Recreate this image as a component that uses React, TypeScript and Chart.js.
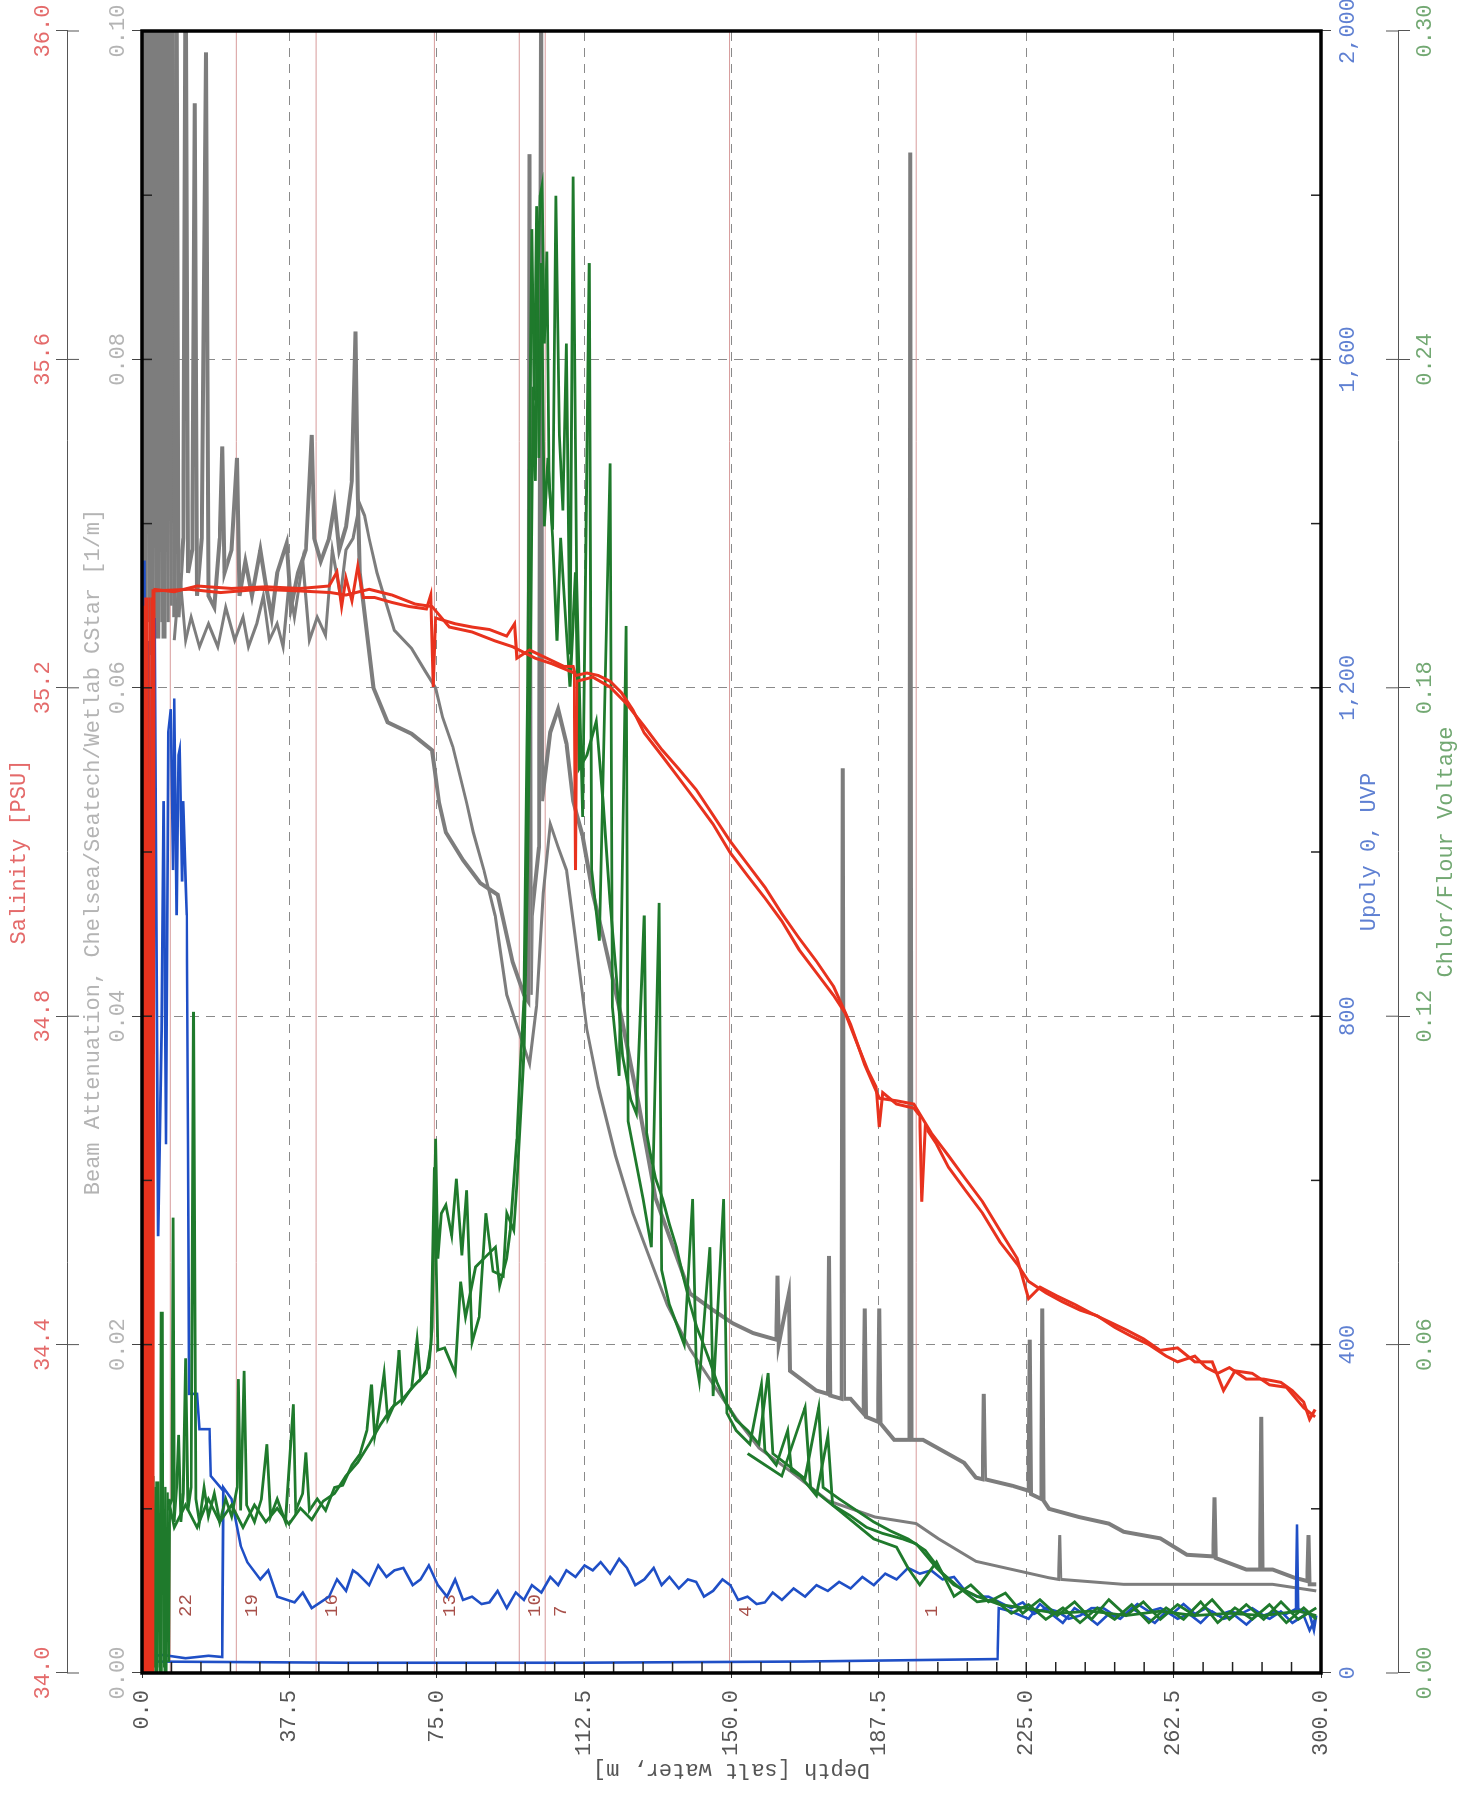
import React, { useEffect, useRef } from "react";
import { Chart, registerables } from "chart.js";

Chart.register(...registerables);

const FONT = "'Liberation Mono', 'DejaVu Sans Mono', monospace";

// ---------- axis definitions ----------
const depthRange = [0, 300];
const depthStep = 37.5;
const depthMinorStep = 7.5;
const salinityRange = [34, 36];
const salinityStep = 0.4;
const beamRange = [0, 0.1];
const beamStep = 0.02;
const upolyRange = [0, 2000];
const upolyStep = 400;
const chlorRange = [0, 0.3];
const chlorStep = 0.06;

// ---------- bottle firing markers ----------
const bottleDepths = [7.2, 24.0, 44.3, 74.4, 96.0, 102.6, 149.5, 197.0];
const bottleLabels = ["22", "19", "16", "13", "10", "7", "4", "1"];

// ---------- data: [depth m, value] ----------
const salinitySurface = [[0.3,34.0],[0.5,35.30],[0.8,34.0],[1.1,35.31],[1.4,34.0],[1.7,35.31],[2.0,34.0],[2.3,35.31],[2.6,34.0],[2.9,35.32]];

const salinityDown = [[2.9,35.320],[8.2,35.317],[14.0,35.324],[22.8,35.321],[31.5,35.323],[40.3,35.321],[47.6,35.324],[49.6,35.341],[50.8,35.299],[51.9,35.334],[53.4,35.306],[54.9,35.348],[56.3,35.310],[59.2,35.310],[63.6,35.304],[68.0,35.299],[72.4,35.296],[73.5,35.313],[74.1,35.201],[74.7,35.285],[79.7,35.278],[84.0,35.274],[88.4,35.271],[92.8,35.263],[94.8,35.278],[95.4,35.236],[98.6,35.246],[103.0,35.236],[107.4,35.226],[109.7,35.226],[110.3,35.215],[113.2,35.218],[116.1,35.215],[119.1,35.208],[122.0,35.194],[124.9,35.173],[127.8,35.145],[132.2,35.118],[136.6,35.090],[141.0,35.062],[145.3,35.034],[149.7,34.999],[154.1,34.971],[158.5,34.944],[162.8,34.916],[167.2,34.881],[171.6,34.853],[176.0,34.825],[178.9,34.804],[181.8,34.769],[184.7,34.734],[186.8,34.714],[187.6,34.665],[188.5,34.707],[192.0,34.693],[196.4,34.688],[197.9,34.679],[198.4,34.574],[199.3,34.665],[202.2,34.644],[205.2,34.616],[209.5,34.588],[213.9,34.560],[218.3,34.525],[222.7,34.498],[225.6,34.477],[230.0,34.463],[234.3,34.452],[238.7,34.442],[243.1,34.435],[247.5,34.421],[251.8,34.410],[256.2,34.400],[260.6,34.386],[263.5,34.379],[267.9,34.386],[270.8,34.372],[273.7,34.365],[276.7,34.372],[281.0,34.358],[285.4,34.358],[289.8,34.354],[292.7,34.344],[295.6,34.330],[297.1,34.309],[298.5,34.321]];

const salinityUp = [[3.0,35.318],[12.0,35.320],[20.0,35.316],[30.0,35.320],[40.0,35.318],[48.0,35.316],[51.9,35.313],[57.8,35.320],[63.6,35.313],[69.5,35.302],[73.8,35.299],[78.2,35.274],[84.0,35.268],[89.9,35.257],[94.3,35.250],[100.1,35.236],[104.5,35.229],[110.0,35.218],[110.3,34.978],[110.6,35.208],[114.7,35.213],[119.1,35.201],[123.4,35.180],[127.8,35.153],[132.2,35.125],[136.6,35.101],[141.0,35.076],[145.3,35.045],[149.7,35.013],[154.1,34.985],[158.5,34.957],[162.8,34.925],[167.2,34.895],[171.6,34.867],[176.0,34.836],[180.3,34.790],[183.9,34.741],[187.6,34.700],[192.0,34.697],[196.4,34.693],[200.8,34.658],[205.2,34.630],[209.5,34.602],[213.9,34.574],[218.3,34.539],[222.7,34.505],[225.6,34.456],[228.5,34.470],[232.9,34.459],[237.3,34.449],[241.6,34.438],[246.0,34.428],[250.4,34.418],[254.8,34.407],[259.1,34.393],[263.5,34.396],[267.9,34.379],[272.3,34.379],[275.2,34.344],[278.1,34.368],[282.5,34.365],[286.9,34.351],[291.2,34.348],[295.6,34.323],[298.5,34.312]];

const beamSurface = [[0.2,0.064],[0.4,0.104],[0.8,0.063],[1.2,0.104],[1.6,0.064],[2.0,0.104],[2.4,0.062],[2.8,0.104],[3.2,0.064],[3.6,0.104],[4.0,0.063],[4.4,0.104],[4.8,0.064],[5.2,0.104],[5.6,0.063],[6.0,0.104],[6.4,0.064],[6.8,0.104],[7.2,0.065],[7.6,0.104],[8.0,0.066]];

const beamDown = [[8.2,0.0643],[8.8,0.104],[9.3,0.0643],[10.5,0.0691],[11.1,0.104],[11.7,0.0670],[12.8,0.0684],[13.4,0.0956],[14.0,0.0656],[15.2,0.0691],[16.3,0.0987],[16.9,0.0656],[18.4,0.0649],[19.8,0.0691],[20.4,0.0747],[21.0,0.0670],[22.8,0.0684],[24.2,0.0740],[24.8,0.0656],[26.3,0.0677],[28.0,0.0656],[30.1,0.0684],[31.5,0.0663],[33.0,0.0643],[34.4,0.0670],[36.8,0.0688],[37.9,0.0649],[39.7,0.0670],[41.7,0.0684],[43.2,0.0754],[43.8,0.0691],[45.5,0.0677],[47.6,0.0691],[49.0,0.0712],[50.2,0.0684],[51.9,0.0698],[53.4,0.0726],[54.3,0.0817],[54.9,0.0719],[55.4,0.0670],[58.9,0.0600],[62.5,0.0579],[68.6,0.0572],[73.8,0.0562],[75.6,0.0530],[77.3,0.0512],[81.7,0.0495],[86.1,0.0481],[90.5,0.0474],[94.3,0.0433],[97.2,0.0413],[98.3,0.0409],[98.6,0.0925],[98.9,0.0413],[99.2,0.0461],[101.0,0.0503],[101.6,0.104],[101.8,0.0531],[103.9,0.0573],[105.9,0.0587],[108.0,0.0566],[109.7,0.0531],[112.1,0.0510],[114.7,0.0475],[117.6,0.0446],[122.0,0.0399],[126.4,0.0346],[130.7,0.0289],[135.1,0.0260],[139.5,0.0231],[145.3,0.0221],[150.3,0.0213],[155.5,0.0207],[161.4,0.0203],[161.7,0.0242],[162.0,0.0200],[164.6,0.0231],[164.9,0.0184],[171.6,0.0172],[174.5,0.0170],[174.8,0.0254],[175.1,0.0169],[178.0,0.0167],[178.3,0.0551],[178.6,0.0167],[180.3,0.0167],[183.6,0.0158],[183.9,0.0222],[184.2,0.0156],[187.3,0.0153],[187.6,0.0222],[187.9,0.0152],[191.4,0.0142],[195.2,0.0142],[195.5,0.0926],[195.8,0.0142],[198.7,0.0142],[209.2,0.0128],[212.2,0.0119],[213.9,0.0118],[214.2,0.0170],[214.5,0.0118],[221.5,0.0114],[225.6,0.0111],[225.9,0.0203],[226.2,0.0109],[228.8,0.0106],[229.1,0.0222],[229.4,0.0105],[230.8,0.0100],[238.4,0.0095],[246.0,0.0091],[249.8,0.0086],[259.1,0.0082],[265.9,0.0072],[272.6,0.0071],[272.9,0.0107],[273.2,0.0070],[281.0,0.0063],[284.5,0.0063],[284.8,0.0156],[285.1,0.0063],[287.7,0.0063],[293.3,0.0058],[296.5,0.0056],[296.8,0.0084],[297.1,0.0054],[298.8,0.0054]];

const beamUp = [[8.2,0.0629],[9.6,0.0670],[11.1,0.0629],[12.5,0.0643],[14.6,0.0625],[16.9,0.0639],[19.3,0.0625],[21.3,0.0649],[23.6,0.0629],[25.7,0.0643],[27.1,0.0625],[29.2,0.0639],[30.9,0.0656],[32.4,0.0629],[34.4,0.0639],[35.9,0.0625],[37.4,0.0663],[38.8,0.0643],[40.9,0.0677],[42.6,0.0629],[44.6,0.0643],[46.7,0.0632],[48.4,0.0684],[50.5,0.0656],[51.9,0.0684],[53.7,0.0691],[55.4,0.0712],[56.6,0.0705],[57.8,0.0691],[59.8,0.0670],[64.2,0.0635],[68.6,0.0624],[72.1,0.0610],[74.7,0.0600],[76.5,0.0582],[79.1,0.0564],[82.6,0.0530],[84.3,0.0512],[87.0,0.0489],[89.9,0.0461],[92.8,0.0413],[95.7,0.0392],[98.6,0.0371],[100.4,0.0406],[102.1,0.0475],[103.9,0.0517],[105.9,0.0503],[108.0,0.0489],[110.3,0.0447],[113.2,0.0392],[116.1,0.0357],[120.5,0.0315],[124.9,0.0280],[129.3,0.0252],[133.7,0.0224],[139.5,0.0197],[145.3,0.0176],[151.2,0.0155],[157.0,0.0137],[164.9,0.0123],[174.5,0.0105],[186.5,0.0095],[197.0,0.0091],[202.5,0.0082],[212.2,0.0068],[221.5,0.0063],[230.8,0.0058],[233.2,0.0057],[233.5,0.0084],[233.8,0.0057],[249.8,0.0054],[268.5,0.0054],[287.7,0.0054],[298.8,0.0050]];

const upolySurface = [[0.3,17],[0.6,1355],[1.2,365],[1.8,1257],[2.6,644],[3.2,1285],[4.1,532],[5.0,783],[5.5,1062],[6.1,644],[6.7,1146],[7.3,1174],[7.9,978],[8.2,1187],[8.8,923],[9.3,1118],[9.6,1125],[10.2,964],[10.5,1062],[11.1,964],[11.4,923],[11.7,644],[12.0,340],[14.0,340],[14.6,297],[17.2,297],[17.5,240],[20.7,222]];

const upolyMid = [[0.6,19.5],[5.3,22],[11.1,18],[16.9,21],[20.4,19.5],[20.7,226],[22.8,212],[25.1,155],[26.8,135],[30.1,114],[32.1,125],[34.4,93],[38.8,86],[40.9,98],[43.2,79],[47.6,93],[49.6,114],[51.9,100],[53.7,125],[54.9,121],[57.8,107],[60.1,131],[62.2,117],[64.2,125],[66.5,128],[68.9,107],[70.9,114],[73.0,131],[75.3,107],[77.6,93],[79.7,114],[81.7,89],[84.0,93],[86.4,84],[88.4,86],[90.5,100],[92.8,79],[95.1,98],[97.2,89],[99.2,107],[101.6,98],[103.9,117],[105.9,107],[108.0,125],[110.3,117],[112.6,131],[114.7,125],[116.7,135],[119.1,121],[121.4,139],[123.4,128],[125.5,107],[127.8,114],[130.2,128],[132.2,107],[134.2,117],[136.6,103],[138.9,114],[141.0,111],[143.0,93],[145.3,100],[147.7,114],[149.7,107],[151.7,89],[154.1,93],[156.4,84],[158.5,86],[160.5,98],[162.8,89],[165.8,103],[168.7,93],[171.6,107],[174.5,100],[177.4,111],[180.3,103],[183.3,117],[186.2,107],[189.1,121],[192.0,114],[194.9,128],[197.9,121],[200.8,125],[203.7,114],[206.6,117],[209.5,100],[212.5,93],[215.4,93],[218.3,86],[221.2,79],[224.1,86],[227.0,72],[230.0,79],[232.9,75],[235.8,66],[238.7,70],[241.6,79],[244.6,79],[247.5,70],[250.4,72],[253.3,84],[256.2,75],[259.1,79],[262.1,72],[265.0,84],[267.9,72],[270.8,79],[273.7,70],[276.7,75],[279.6,72],[282.5,79],[285.4,70],[288.3,75],[291.2,72],[293.6,78],[293.9,181],[294.2,78],[297.1,72],[298.2,52],[298.8,70]];

const upolyLow = [[0.6,14],[51.9,12.5],[110.3,12.5],[168.7,14],[217.7,17],[218.0,79],[221.2,75],[225.6,66],[228.5,84],[231.4,72],[234.3,61],[237.3,79],[240.2,70],[243.1,59],[246.0,72],[248.9,66],[251.8,79],[254.8,70],[257.7,61],[260.6,75],[263.5,66],[266.4,72],[269.4,61],[272.3,75],[275.2,66],[278.1,70],[281.0,59],[284.0,72],[286.9,66],[289.8,75],[292.7,61],[295.6,70],[297.1,52],[298.5,66]];

const chlorSurface = [[1.8,0.000],[2.1,0.034],[2.4,0.000],[2.7,0.036],[3.0,0.001],[3.3,0.034],[3.6,0.000],[3.9,0.035],[4.2,0.001],[4.5,0.034],[4.8,0.000],[5.0,0.066],[5.1,0.036],[5.4,0.001],[5.7,0.034],[6.0,0.000],[6.3,0.033],[6.6,0.002],[6.9,0.030]];

const chlorA = [[6.7,0.0297],[7.6,0.0318],[7.9,0.0832],[8.2,0.0276],[8.8,0.0339],[9.3,0.0435],[9.9,0.0276],[10.5,0.0328],[11.1,0.0575],[11.7,0.0297],[12.5,0.0339],[13.1,0.1208],[13.7,0.0318],[14.6,0.0276],[15.8,0.0339],[16.9,0.0286],[18.4,0.0328],[19.8,0.0276],[21.3,0.0318],[22.8,0.0286],[24.2,0.0339],[24.5,0.0537],[25.1,0.0297],[26.0,0.0552],[26.6,0.0307],[28.6,0.0276],[30.4,0.0318],[31.8,0.0418],[32.7,0.0286],[34.4,0.0318],[36.5,0.0276],[38.5,0.0491],[39.1,0.0297],[40.9,0.0328],[41.7,0.0403],[42.6,0.0297],[44.6,0.0318],[46.7,0.0297],[49.0,0.0339],[51.1,0.0343],[53.4,0.0380],[55.4,0.0399],[57.2,0.0443],[58.4,0.0527],[59.2,0.0433],[59.8,0.0456],[61.6,0.0548],[62.5,0.0464],[64.2,0.0491],[65.4,0.0590],[66.2,0.0495],[68.6,0.0521],[70.0,0.0610],[70.9,0.0537],[73.0,0.0558],[73.8,0.0631],[74.7,0.0976],[75.3,0.0757],[76.2,0.0840],[77.3,0.0855],[78.8,0.0799],[80.0,0.0903],[81.4,0.0763],[82.6,0.0882],[84.0,0.0604],[85.8,0.0650],[87.5,0.0840],[89.3,0.0734],[91.9,0.0725],[92.8,0.0840],[94.6,0.0809],[95.4,0.0893],[97.2,0.1135],[98.1,0.1468],[98.9,0.1886],[99.5,0.2350],[100.1,0.2178],[100.7,0.2534],[101.3,0.2699],[101.8,0.2718],[102.4,0.2429],[103.0,0.2597],[103.6,0.2174],[104.5,0.2089],[105.3,0.2699],[106.2,0.2262],[107.1,0.2124],[108.0,0.2429],[108.9,0.1861],[109.7,0.2734],[110.6,0.2001],[112.1,0.1564],[113.8,0.2576],[114.4,0.1468],[116.4,0.1338],[119.1,0.2210],[119.7,0.1217],[121.4,0.1091],[123.2,0.1913],[123.7,0.1008],[127.5,0.0866],[129.6,0.0778],[131.6,0.1407],[132.2,0.0736],[134.2,0.0673],[138.0,0.0600],[140.1,0.0866],[141.0,0.0569],[141.8,0.0533],[144.5,0.0778],[145.3,0.0506],[148.0,0.0866],[148.8,0.0475],[151.2,0.0443],[154.7,0.0418],[157.6,0.0527],[158.5,0.0406],[161.4,0.0380],[164.3,0.0443],[165.2,0.0370],[167.5,0.0360],[171.6,0.0324],[174.5,0.0433],[175.7,0.0307],[180.1,0.0288],[184.4,0.0266],[188.5,0.0255],[193.5,0.0245],[197.0,0.0236],[202.2,0.0192],[206.6,0.0161],[212.5,0.0140],[218.3,0.0125],[224.1,0.0119],[232.9,0.0109],[241.6,0.0113],[250.4,0.0105],[259.1,0.0113],[267.9,0.0105],[276.7,0.0109],[285.4,0.0105],[294.2,0.0113],[298.8,0.0105]];

const chlorB = [[6.7,0.0318],[8.2,0.0266],[11.1,0.0307],[14.0,0.0266],[16.9,0.0318],[19.8,0.0276],[22.8,0.0307],[25.7,0.0266],[28.6,0.0307],[31.5,0.0276],[34.4,0.0301],[37.4,0.0272],[40.3,0.0301],[43.2,0.0280],[46.1,0.0314],[49.0,0.0328],[51.9,0.0360],[54.9,0.0385],[57.8,0.0418],[60.7,0.0454],[63.6,0.0485],[66.5,0.0502],[69.5,0.0527],[72.4,0.0548],[73.5,0.0600],[74.4,0.0924],[75.3,0.0590],[77.0,0.0594],[79.7,0.0548],[81.1,0.0715],[82.3,0.0650],[84.9,0.0742],[87.5,0.0761],[89.9,0.0778],[91.0,0.0707],[92.8,0.0757],[93.7,0.0809],[95.4,0.0976],[96.3,0.1112],[97.2,0.1229],[98.1,0.1802],[98.6,0.2220],[99.2,0.2638],[99.8,0.2325],[100.4,0.2680],[101.0,0.2220],[101.6,0.2576],[102.4,0.2095],[103.3,0.2220],[104.5,0.2074],[105.6,0.1886],[106.5,0.2074],[107.4,0.1969],[108.9,0.1802],[110.3,0.2011],[111.2,0.1652],[113.2,0.1677],[115.6,0.1739],[117.3,0.1593],[119.1,0.1407],[120.5,0.1290],[122.3,0.1127],[124.3,0.1049],[125.8,0.1022],[127.8,0.1384],[128.4,0.0987],[129.3,0.0951],[130.7,0.0903],[132.5,0.0866],[134.2,0.0820],[136.0,0.0778],[137.7,0.0725],[139.5,0.0673],[141.2,0.0631],[142.7,0.0604],[144.5,0.0569],[146.2,0.0533],[148.5,0.0495],[151.2,0.0462],[154.1,0.0443],[157.0,0.0418],[159.3,0.0548],[160.5,0.0401],[164.3,0.0380],[168.7,0.0355],[172.2,0.0485],[173.3,0.0339],[177.4,0.0318],[181.8,0.0297],[186.2,0.0276],[190.6,0.0259],[194.9,0.0245],[199.3,0.0224],[203.7,0.0182],[208.1,0.0155],[212.5,0.0130],[216.8,0.0134],[221.2,0.0109],[225.6,0.0125],[230.0,0.0098],[234.3,0.0119],[238.7,0.0092],[243.1,0.0119],[247.5,0.0098],[251.8,0.0125],[256.2,0.0092],[260.6,0.0119],[265.0,0.0098],[269.4,0.0130],[273.7,0.0092],[278.1,0.0119],[282.5,0.0098],[286.9,0.0125],[291.2,0.0092],[295.6,0.0119],[298.8,0.0098]];

const chlorC = [[154.1,0.0401],[162.8,0.0360],[168.7,0.0485],[170.1,0.0339],[177.4,0.0297],[186.2,0.0245],[192.0,0.0230],[194.9,0.0192],[197.9,0.0161],[202.2,0.0203],[206.6,0.0140],[210.9,0.0161],[215.4,0.0130],[219.7,0.0146],[224.1,0.0109],[228.5,0.0134],[232.9,0.0105],[237.3,0.0130],[241.6,0.0098],[246.0,0.0134],[250.4,0.0105],[254.8,0.0130],[259.1,0.0098],[263.5,0.0125],[267.9,0.0105],[272.3,0.0134],[276.7,0.0098],[281.0,0.0125],[285.4,0.0098],[289.8,0.0130],[294.2,0.0098],[298.8,0.0119]];

// ---------- colours ----------
const RED = "#e8321e";
const GREEN = "#1f7a2c";
const BLUE = "#1f4fc6";
const GRAY = "#7d7d7d";

const ds = (data: number[][], axis: string, color: string, width = 2.5) => ({
  data: data.map(([d, v]) => ({ x: v, y: d })),
  xAxisID: axis,
  yAxisID: "depth",
  borderColor: color,
  backgroundColor: color,
  borderWidth: width,
  pointRadius: 0,
  pointHoverRadius: 0,
  fill: false,
  tension: 0,
  clip: 0,
});

const fixBox = (size: number) => (scale: any) => {
  if (scale.isHorizontal()) scale.height = size;
  else scale.width = size;
  scale.paddingLeft = 0;
  scale.paddingRight = 0;
  scale.paddingTop = 0;
  scale.paddingBottom = 0;
};

const font = { family: FONT, size: 22 };

const bottlePlugin = {
  id: "bottles",
  beforeDatasetsDraw(chart: any) {
    const { ctx, chartArea: a, scales } = chart;
    ctx.save();
    ctx.beginPath();
    ctx.rect(a.left, a.top, a.right - a.left, a.bottom - a.top);
    ctx.clip();
    bottleDepths.forEach((d, i) => {
      const y = scales.depth.getPixelForValue(d);
      ctx.strokeStyle = "#d79b9b";
      ctx.lineWidth = 1;
      ctx.beginPath();
      ctx.moveTo(a.left, y);
      ctx.lineTo(a.right, y);
      ctx.stroke();
      ctx.fillStyle = "#a8504a";
      ctx.font = `19px ${FONT}`;
      ctx.textAlign = "left";
      ctx.textBaseline = "middle";
      ctx.fillText(bottleLabels[i], a.left + 56, y + 16);
    });
    ctx.restore();
  },
};

const decorPlugin = {
  id: "decor",
  afterDatasetsDraw(chart: any) {
    const { ctx, chartArea: a, scales } = chart;
    const seg = (x1: number, y1: number, x2: number, y2: number) => {
      ctx.beginPath();
      ctx.moveTo(x1, y1);
      ctx.lineTo(x2, y2);
      ctx.stroke();
    };
    ctx.save();
    ctx.strokeStyle = "#222";
    ctx.lineWidth = 1.5;
    for (let d = depthRange[0] + depthMinorStep; d < depthRange[1]; d += depthMinorStep) {
      const y = scales.depth.getPixelForValue(d);
      seg(a.left, y, a.left + 11, y);
    }
    for (let v = beamRange[0] + beamStep / 2; v < beamRange[1] - 1e-9; v += beamStep / 2) {
      const x = scales.beam.getPixelForValue(v);
      seg(x, a.top, x, a.top + 10);
    }
    for (let v = upolyRange[0] + upolyStep / 2; v < upolyRange[1]; v += upolyStep / 2) {
      const x = scales.upoly.getPixelForValue(v);
      seg(x, a.bottom, x, a.bottom - 10);
    }
    ctx.strokeStyle = "#555";
    ctx.lineWidth = 1;
    const sal = scales.sal;
    for (let v = salinityRange[0]; v <= salinityRange[1] + 1e-9; v += salinityStep) {
      const x = sal.getPixelForValue(v);
      seg(x, sal.bottom, x, sal.bottom + 12);
    }
    const chl = scales.chlor;
    for (let v = chlorRange[0]; v <= chlorRange[1] + 1e-9; v += chlorStep) {
      const x = chl.getPixelForValue(v);
      seg(x, chl.top, x, chl.top - 12);
    }
    ctx.strokeStyle = "#000";
    ctx.lineWidth = 3.5;
    ctx.strokeRect(a.left, a.top, a.right - a.left, a.bottom - a.top);
    ctx.restore();
  },
};

export default function App() {
  const ref = useRef<HTMLCanvasElement | null>(null);

  useEffect(() => {
    if (!ref.current) return;
    const chart = new Chart(ref.current, {
      type: "line",
      data: {
        datasets: [
          ds(salinityDown, "sal", RED, 3),
          ds(salinityUp, "sal", RED, 3),
          ds(salinitySurface, "sal", RED, 4),
          ds(chlorA, "chlor", GREEN, 2.8),
          ds(chlorB, "chlor", GREEN, 2.8),
          ds(chlorC, "chlor", GREEN, 2.8),
          ds(chlorSurface, "chlor", GREEN, 4),
          ds(upolySurface, "upoly", BLUE, 2.6),
          ds(upolyMid, "upoly", BLUE, 2.6),
          ds(upolyLow, "upoly", BLUE, 2.6),
          ds(beamDown, "beam", GRAY, 4),
          ds(beamUp, "beam", GRAY, 3),
          ds(beamSurface, "beam", GRAY, 5),
        ] as any,
      },
      options: {
        responsive: false,
        maintainAspectRatio: false,
        devicePixelRatio: 1,
        animation: false,
        events: [],
        layout: { padding: { left: 0, right: 31, top: 0, bottom: 0 } },
        plugins: { legend: { display: false }, tooltip: { enabled: false } },
        scales: {
          sal: {
            type: "linear", axis: "x", position: "top", weight: 1,
            min: salinityRange[0], max: salinityRange[1],
            ticks: { stepSize: salinityStep, autoSkip: false, maxRotation: 0, minRotation: 0, padding: 0, color: "#e46a6a", font, callback: (v: any) => Number(v).toFixed(1) },
            grid: { drawOnChartArea: false, drawTicks: true, tickLength: 11, color: "#555", tickColor: "#555" },
            border: { display: true, color: "#555", width: 1 },
            title: { display: true, text: "Salinity [PSU]", color: "#e46a6a", font, padding: { top: 6, bottom: 0 } },
            afterFit: fixBox(67),
          },
          beam: {
            type: "linear", axis: "x", position: "top", weight: 0,
            min: beamRange[0], max: beamRange[1],
            ticks: { stepSize: beamStep, autoSkip: false, maxRotation: 0, minRotation: 0, padding: 1, color: "#b4b4b4", font, callback: (v: any) => Number(v).toFixed(2) },
            grid: { drawOnChartArea: true, drawTicks: true, tickLength: 10, color: "#8a8a8a", tickColor: "#444", lineWidth: 1 },
            border: { display: false, dash: [9, 7] },
            title: { display: true, text: "Beam Attenuation, Chelsea/Seatech/Wetlab CStar [1/m]", color: "#b4b4b4", font, padding: { top: 13, bottom: 0 } },
            afterFit: fixBox(75),
          },
          upoly: {
            type: "linear", axis: "x", position: "bottom", weight: 0,
            min: upolyRange[0], max: upolyRange[1],
            ticks: { stepSize: upolyStep, autoSkip: false, maxRotation: 0, minRotation: 0, padding: 4, color: "#5f80d2", font, callback: (v: any) => Number(v).toLocaleString("en-US") },
            grid: { drawOnChartArea: false, drawTicks: true, tickLength: 10, color: "#444", tickColor: "#444" },
            border: { display: false },
            title: { display: true, text: "Upoly 0, UVP", color: "#5f80d2", font, padding: { top: 0, bottom: 16 } },
            afterFit: fixBox(77),
          },
          chlor: {
            type: "linear", axis: "x", position: "bottom", weight: 1,
            min: chlorRange[0], max: chlorRange[1],
            ticks: { stepSize: chlorStep, autoSkip: false, maxRotation: 0, minRotation: 0, padding: 2, color: "#72a872", font, callback: (v: any) => Number(v).toFixed(2) },
            grid: { drawOnChartArea: false, drawTicks: true, tickLength: 12, color: "#555", tickColor: "#555" },
            border: { display: true, color: "#555", width: 1 },
            title: { display: true, text: "Chlor/Flour Voltage", color: "#72a872", font, padding: { top: 0, bottom: 6 } },
            afterFit: fixBox(67),
          },
          depth: {
            type: "linear", axis: "y", position: "left", reverse: true,
            min: depthRange[0], max: depthRange[1],
            ticks: { stepSize: depthStep, autoSkip: false, padding: 12, color: "#555", font, callback: (v: any) => Number(v).toFixed(1) },
            grid: { drawOnChartArea: true, drawTicks: true, tickLength: 5, color: "#8a8a8a", tickColor: "#333", lineWidth: 1 },
            border: { display: false, dash: [9, 7] },
            title: { display: true, text: "Depth [salt water, m]", color: "#555", font, padding: { top: 13, bottom: 0 } },
            afterFit: fixBox(123),
          },
        } as any,
      },
      plugins: [bottlePlugin, decorPlugin],
    });
    return () => chart.destroy();
  }, []);

  return (
    <div style={{ position: "fixed", left: 0, top: 0, width: 1465, height: 1796, overflow: "hidden", background: "#fff" }}>
      <div
        style={{
          position: "absolute",
          left: 0,
          top: 0,
          width: 1796,
          height: 1465,
          transformOrigin: "0 0",
          transform: "translateY(1796px) rotate(-90deg)",
        }}
      >
        <canvas ref={ref} width={1796} height={1465} style={{ display: "block", width: 1796, height: 1465 }} />
      </div>
    </div>
  );
}
